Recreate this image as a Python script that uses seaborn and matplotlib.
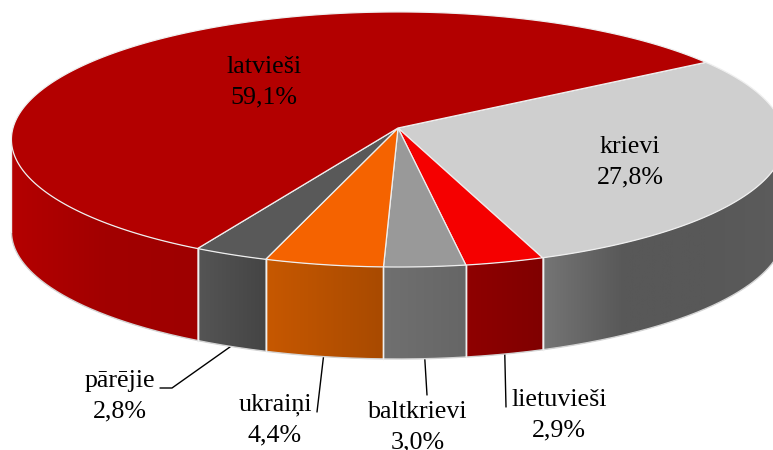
import numpy as np
import matplotlib
matplotlib.use("Agg")
import matplotlib.pyplot as plt
from matplotlib.colors import LinearSegmentedColormap
from matplotlib.patches import Polygon
import seaborn as sns

# data, clockwise from the krievi slice
names = ["krievi", "lietuvieši", "baltkrievi", "ukraiņi", "pārējie", "latvieši"]
shares = [27.8, 2.9, 3.0, 4.4, 2.8, 59.1]
top_colors = ["#CFCFCF", "#F50000", "#999999", "#F56300", "#595959", "#B30000"]
wall_colors = [
    ["#757575", "#585858", "#585858", "#5C5C5C"],
    ["#8F0000", "#800000"],
    ["#707070", "#666666"],
    ["#C75800", "#A84A00"],
    ["#555555", "#444444"],
    ["#B40000", "#A20000", "#9E0000"],
]

sns.set_theme(style="white", font="Liberation Serif")
FS = 18.7

# projection of the circular pie on to the page
CX, CY, A, B, K = 398.0, 128.0, 385.0, 126.5, -0.09
DEPTH = 92.0
START = 57.0
WARP = 2.4


def project(theta_deg):
    theta_deg = np.asarray(theta_deg, dtype=float)
    warped = theta_deg + WARP * (1 - np.cos(np.radians(theta_deg - START)))
    t = np.radians(warped)
    u, v = np.sin(t), -np.cos(t)
    d = 1 + K * v
    return CX + A * u / d, CY + B * v / d, v


fig = plt.figure(figsize=(7.73, 4.5), dpi=100, facecolor="white")
ax = fig.add_axes([0, 0, 1, 1])
ax.set_xlim(0, 773)
ax.set_ylim(450, 0)
ax.axis("off")

edges = START + np.cumsum([0] + shares) * 3.6
EDGE = "#EFEFEF"

# side walls
for i in range(len(shares)):
    th = np.linspace(edges[i], edges[i + 1], 600)
    x, y, v = project(th)
    front = v >= -K          # from the widest point of the rim towards the viewer
    x, y = x[front], y[front]
    if len(x) < 2:
        continue
    pts = np.vstack([np.c_[x, y], np.c_[x[::-1], y[::-1] + DEPTH]])
    poly = Polygon(pts, closed=True, fc="none", ec="none", zorder=2)
    ax.add_patch(poly)
    cmap = LinearSegmentedColormap.from_list(names[i], wall_colors[i])
    grad = np.linspace(0, 1, 256).reshape(1, -1)
    img = ax.imshow(grad, cmap=cmap, aspect="auto", zorder=2,
                    extent=[x.min(), x.max(), pts[:, 1].max(), pts[:, 1].min()])
    img.set_clip_path(poly)
    ax.plot(x, y + DEPTH, color="#D4D4D4", lw=1.0, zorder=2.2)
    for xe, ye in ((x[0], y[0]), (x[-1], y[-1])):
        ax.plot([xe, xe], [ye, ye + DEPTH], color=EDGE, lw=1.0, zorder=2.3)

ax.set_xlim(0, 773)
ax.set_ylim(450, 0)

# top faces
for i in range(len(shares)):
    th = np.linspace(edges[i], edges[i + 1], 600)
    x, y, _ = project(th)
    pts = np.vstack([[CX, CY], np.c_[x, y]])
    ax.add_patch(Polygon(pts, closed=True, fc=top_colors[i], ec=EDGE, lw=0.9,
                         joinstyle="round", zorder=3))

# labels: inside for the two big slices, with leader lines for the small ones
label_xy = {
    "latvieši": (264, 82), "krievi": (630, 162),
    "lietuvieši": (559, 415), "baltkrievi": (418, 427),
    "ukraiņi": (275, 420), "pārējie": (120, 396),
}
leader_end = {
    "lietuvieši": [(506, 407)],
    "baltkrievi": [(427, 395)],
    "ukraiņi": [(317, 412)],
    "pārējie": [(172, 388), (160, 388)],
}
for i, (name, share) in enumerate(zip(names, shares)):
    lx, ly = label_xy[name]
    ax.text(lx, ly, f"{name}\n{share:.1f}%".replace(".", ","), ha="center", va="center",
            fontsize=FS, color="black", family="Liberation Serif",
            linespacing=1.5, zorder=5, clip_on=False)
    if name in leader_end:
        sx, sy, _ = project((edges[i] + edges[i + 1]) / 2)
        path = [(sx, sy + DEPTH)] + leader_end[name]
        ax.plot(*zip(*path), color="black", lw=1.0, zorder=1.5, solid_joinstyle="miter")

fig.savefig("out.png", dpi=100, facecolor="white")
